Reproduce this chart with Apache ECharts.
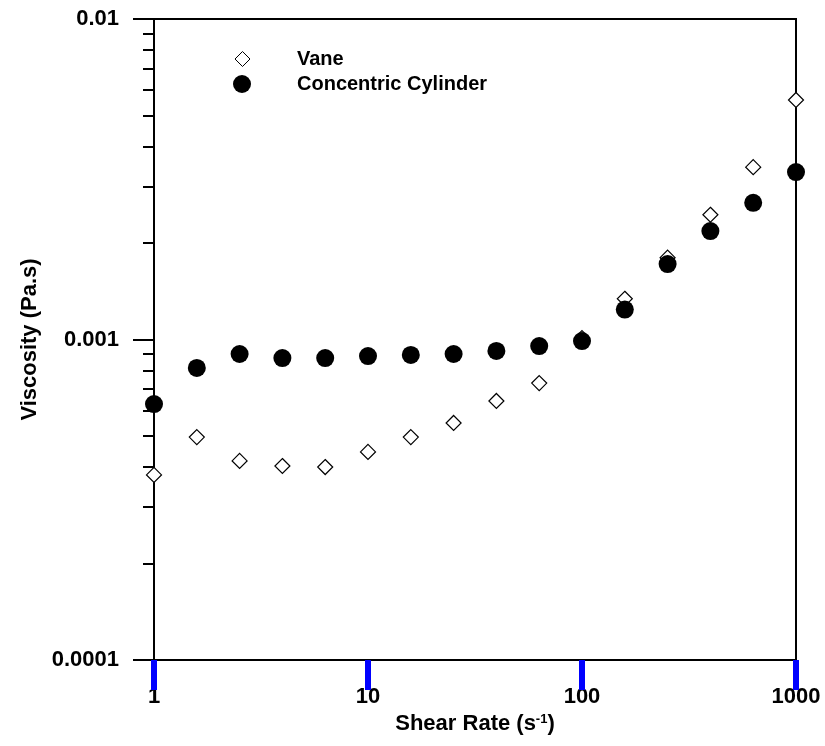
<!DOCTYPE html>
<html>
<head>
<meta charset="utf-8">
<script src="https://cdn.jsdelivr.net/npm/echarts@6/dist/echarts.min.js"></script>
<style>html,body{margin:0;padding:0;background:#fff;}#c{width:825px;height:746px;background:#fff;}</style>
</head>
<body>
<div id="c"></div>
<script>
// ---- data ----
const shearRate = [1, 1.585, 2.512, 3.981, 6.31, 10, 15.85, 25.12, 39.81, 63.1, 100, 158.5, 251.2, 398.1, 631, 1000];
const vane = [3.78e-4, 4.96e-4, 4.18e-4, 4.03e-4, 4.0e-4, 4.46e-4, 4.96e-4, 5.49e-4, 6.43e-4, 7.31e-4, 1.01e-3, 1.34e-3, 1.80e-3, 2.45e-3, 3.45e-3, 5.59e-3];
const cylinder = [6.29e-4, 8.15e-4, 9.01e-4, 8.75e-4, 8.75e-4, 8.88e-4, 8.95e-4, 9.01e-4, 9.21e-4, 9.54e-4, 9.89e-4, 1.24e-3, 1.72e-3, 2.18e-3, 2.67e-3, 3.33e-3];
const seriesNames = ['Vane', 'Concentric Cylinder'];

const xMajorTicks = [1, 10, 100, 1000];
const xTickLabels = ['1', '10', '100', '1000'];
const xMinorTicks = [2, 3, 4, 5, 6, 7, 8, 9, 20, 30, 40, 50, 60, 70, 80, 90, 200, 300, 400, 500, 600, 700, 800, 900];
const yMajorTicks = [0.0001, 0.001, 0.01];
const yTickLabels = ['0.0001', '0.001', '0.01'];
const yMinorTicks = [0.0002, 0.0003, 0.0004, 0.0005, 0.0006, 0.0007, 0.0008, 0.0009, 0.002, 0.003, 0.004, 0.005, 0.006, 0.007, 0.008, 0.009];

function nearestLabel(v, ticks, labels) {
  let best = 0, bd = Infinity;
  for (let i = 0; i < ticks.length; i++) {
    const d = Math.abs(Math.log10(v) - Math.log10(ticks[i]));
    if (d < bd) { bd = d; best = i; }
  }
  return labels[best];
}

const FONT = 'Liberation Sans';
const chart = echarts.init(document.getElementById('c'), null, {renderer: 'canvas'});

const xBase = {type: 'log', logBase: 10, min: 1, max: 1000, position: 'bottom'};
const yBase = {type: 'log', logBase: 10, min: 0.0001, max: 0.01, position: 'left'};
const legendText = {fontFamily: FONT, fontWeight: 'bold', fontSize: 20, color: '#000'};

chart.setOption({
  animation: false,
  grid: [
    {left: 154, right: 29, top: 19, bottom: 86, show: true, borderColor: '#000', borderWidth: 2, outerBoundsMode: 'none', containLabel: false},
    {left: 154, right: 29, top: 660, height: 30, show: false, outerBoundsMode: 'none', containLabel: false}
  ],
  legend: [
    {
      data: [seriesNames[0]], orient: 'vertical', left: 229.5, top: 44,
      itemWidth: 15, itemHeight: 15,
      itemStyle: {borderWidth: 1},
      textStyle: Object.assign({padding: [0, 0, 0, 42]}, legendText)
    },
    {
      data: [seriesNames[1]], orient: 'vertical', left: 228, top: 69,
      itemWidth: 18, itemHeight: 18,
      textStyle: Object.assign({padding: [0, 0, 0, 41]}, legendText)
    }
  ],
  xAxis: [
    Object.assign({}, xBase, {
      gridIndex: 0,
      name: 'Shear Rate (s{sup|-1})',
      nameLocation: 'middle', nameGap: 52,
      nameTextStyle: {fontFamily: FONT, fontWeight: 'bold', fontSize: 22, color: '#000',
        rich: {sup: {fontFamily: FONT, fontWeight: 'bold', fontSize: 13, color: '#000', verticalAlign: 'top', padding: [0, 0, 8, 0]}}},
      axisLine: {show: true, onZero: false, lineStyle: {color: '#000', width: 2}},
      axisTick: {show: true, inside: false, length: 21, lineStyle: {color: 'red', width: 3}, customValues: xMajorTicks},
      axisLabel: {show: true, margin: 26, fontFamily: FONT, fontWeight: 'bold', fontSize: 22, color: '#000', customValues: xMajorTicks,
        formatter: v => nearestLabel(v, xMajorTicks, xTickLabels)},
      splitLine: {show: false}
    }),
    Object.assign({}, xBase, {
      gridIndex: 1, show: false
    })
  ],
  yAxis: [
    Object.assign({}, yBase, {
      gridIndex: 0,
      name: 'Viscosity (Pa.s)',
      nameLocation: 'middle', nameGap: 112, nameRotate: 90,
      nameTextStyle: {fontFamily: FONT, fontWeight: 'bold', fontSize: 22, color: '#000'},
      axisLine: {show: true, onZero: false, lineStyle: {color: '#000', width: 2}},
      axisTick: {show: true, inside: false, length: 21, lineStyle: {color: '#000', width: 2}, customValues: yMajorTicks},
      axisLabel: {show: true, margin: 35, fontFamily: FONT, fontWeight: 'bold', fontSize: 22, color: '#000', customValues: yMajorTicks,
        formatter: v => nearestLabel(v, yMajorTicks, yTickLabels)},
      splitLine: {show: false}
    }),
    Object.assign({}, yBase, {
      gridIndex: 0,
      axisLine: {show: false, onZero: false},
      axisTick: {show: true, inside: false, length: 11, lineStyle: {color: '#000', width: 2}, customValues: yMinorTicks},
      axisLabel: {show: false},
      splitLine: {show: false}
    }),
    {type: 'value', gridIndex: 1, min: 0, max: 1, show: false}
  ],
  series: [
    {
      name: seriesNames[0], type: 'scatter', xAxisIndex: 0, yAxisIndex: 0,
      data: shearRate.map((x, i) => [x, vane[i]]),
      symbol: 'diamond', symbolSize: 15,
      itemStyle: {color: '#fff', borderColor: '#000', borderWidth: 1.2, opacity: 1},
      z: 2
    },
    {
      name: seriesNames[1], type: 'scatter', xAxisIndex: 0, yAxisIndex: 0,
      data: shearRate.map((x, i) => [x, cylinder[i]]),
      symbol: 'circle', symbolSize: 18,
      itemStyle: {color: '#000', borderColor: '#000', borderWidth: 0, opacity: 1},
      z: 3
    },
    {
      type: 'scatter', xAxisIndex: 1, yAxisIndex: 2, silent: true,
      data: xMajorTicks.map(v => [v, 0.5]),
      symbol: 'rect', symbolSize: [6, 30],
      itemStyle: {color: 'blue', opacity: 1},
      z: 100
    }
  ]
});
</script>
</body>
</html>
